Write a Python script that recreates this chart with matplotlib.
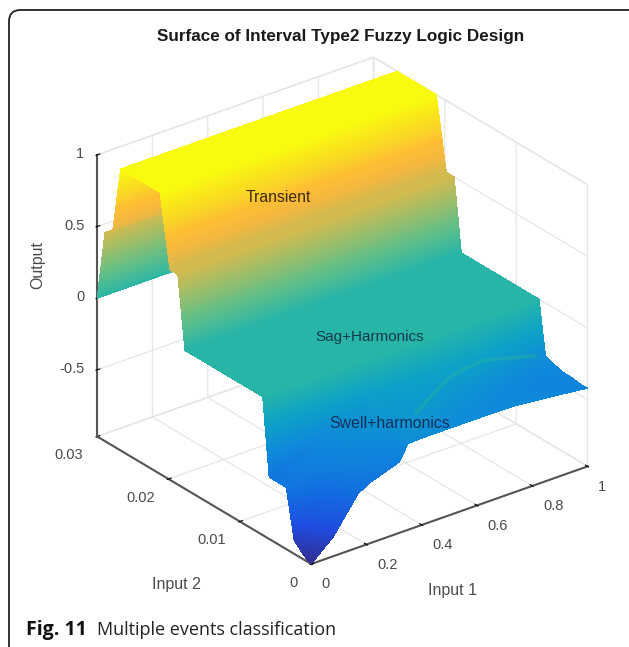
import numpy as np
import matplotlib
matplotlib.use("Agg")
import matplotlib.pyplot as plt
from matplotlib.colors import LinearSegmentedColormap
from matplotlib.patches import FancyBboxPatch

title = "Surface of Interval Type2 Fuzzy Logic Design"
caption_bold = "Fig. 11"
caption_rest = "Multiple events classification"
input1_ticks = [0, 0.2, 0.4, 0.6, 0.8, 1]
input1_ticklabels = ["0", "0.2", "0.4", "0.6", "0.8", "1"]
input2_ticks = [0, 0.01, 0.02, 0.03]
input2_ticklabels = ["0", "0.01", "0.02", "0.03"]
output_ticks = [-0.5, 0, 0.5, 1]
output_ticklabels = ["-0.5", "0", "0.5", "1"]

input1_knots = [0, 0.08, 0.17, 0.21, 0.32, 0.35, 0.40, 0.50, 0.60, 0.745, 0.87, 1]
input2_low = [0, 0.0006, 0.0012, 0.0024, 0.0035, 0.0041, 0.0049, 0.0054, 0.0059]
output_low = [
    [-0.965, -0.83, -0.59, -0.545, -0.47, -0.365, -0.36, -0.36, -0.36, -0.365, -0.39, -0.42],
    [-0.95, -0.77, -0.55, -0.50, -0.43, -0.34, -0.30, -0.36, -0.37, -0.38, -0.40, -0.42],
    [-0.93, -0.72, -0.50, -0.46, -0.40, -0.33, -0.29, -0.34, -0.38, -0.39, -0.41, -0.42],
    [-0.87, -0.62, -0.45, -0.42, -0.35, -0.31, -0.28, -0.26, -0.34, -0.39, -0.41, -0.41],
    [-0.535, -0.50, -0.42, -0.38, -0.32, -0.29, -0.27, -0.25, -0.28, -0.38, -0.41, -0.41],
    [-0.535, -0.49, -0.41, -0.37, -0.31, -0.28, -0.26, -0.24, -0.25, -0.34, -0.40, -0.40],
    [-0.535, -0.48, -0.40, -0.36, -0.30, -0.26, -0.24, -0.22, -0.21, -0.23, -0.37, -0.39],
    [-0.535, -0.48, -0.40, -0.35, -0.29, -0.25, -0.22, -0.20, -0.18, -0.18, -0.28, -0.38],
    [-0.535, -0.48, -0.39, -0.34, -0.28, -0.24, -0.20, -0.17, -0.15, -0.15, -0.20, -0.37],
]
input2_high = [0.0068, 0.0177, 0.0187, 0.0198, 0.0212, 0.0267, 0.0278, 0.0289, 0.03]
output_high = [0, 0, 0.5, 0.5, 1, 1, 0.54, 0.49, 0]

arc_input1 = [0.394, 0.45, 0.5, 0.55, 0.605, 0.67, 0.745, 0.81, 0.87, 0.92, 0.96]
arc_input2 = [0.0006, 0.0016, 0.0024, 0.0033, 0.0041, 0.0046, 0.0049, 0.0052, 0.0054, 0.0056, 0.0058]
arc_output = [-0.2, -0.2, -0.2, -0.2, -0.2, -0.2, -0.2, -0.24, -0.28, -0.31, -0.34]

parula = LinearSegmentedColormap.from_list("parula", [
    (0.00, (0.2081, 0.1663, 0.5292)), (0.10, (0.12, 0.30, 0.88)),
    (0.20, (0.07, 0.43, 0.88)), (0.30, (0.06, 0.53, 0.86)),
    (0.40, (0.05, 0.63, 0.78)), (0.50, (0.15, 0.71, 0.66)),
    (0.60, (0.40, 0.75, 0.52)), (0.70, (0.68, 0.74, 0.38)),
    (0.80, (0.95, 0.72, 0.25)), (0.85, (0.995, 0.74, 0.20)),
    (0.90, (0.98, 0.83, 0.15)), (1.00, (0.976, 0.983, 0.054))])

table = np.array(output_low + [[v] * len(input1_knots) for v in output_high])
xk = np.array(input1_knots)
yk = np.array(input2_low + input2_high)
# finer mesh only so that the colour shades smoothly between the read values
xs = np.unique(np.r_[xk, np.linspace(0, 1, 160)])
ys = np.unique(np.concatenate([np.linspace(a, b, 32) for a, b in zip(yk[:-1], yk[1:])]))
by_x = np.array([np.interp(xs, xk, row) for row in table])
Z = np.array([np.interp(ys, yk, by_x[:, j]) for j in range(len(xs))]).T
X, Y = np.meshgrid(xs, ys)

W, H = 629, 647
fig = plt.figure(figsize=(W / 100, H / 100), dpi=100, facecolor="white")
plt.rcParams["font.family"] = ["Liberation Sans", "DejaVu Sans"]

aw, ah = 620, 620
cx, cy = 334, 319
ax = fig.add_axes([(cx - aw / 2) / W, 1 - (cy + ah / 2) / H, aw / W, ah / H], projection="3d",
                  computed_zorder=False)
ax.patch.set_alpha(0)
ax.set_proj_type("ortho")
ax.view_init(elev=27.3, azim=-127.6)
ax.set_box_aspect((350, 352, 318), zoom=0.92)
ax.set_xlim(0, 1); ax.set_ylim(0, 0.03); ax.set_zlim(-0.965, 1)
ax.plot_surface(X, Y, Z, facecolors=parula((Z + 1) / 2), rstride=1, cstride=1,
                linewidth=0, antialiased=False, shade=False, zorder=1)
ax.plot3D(arc_input1, arc_input2, arc_output, color=(0.15, 0.70, 0.62), lw=2.6, alpha=0.45,
          solid_capstyle="round", solid_joinstyle="round", zorder=2)

ink = "#4a4a4a"
ax.set_xticks(input1_ticks, input1_ticklabels, fontsize=10.5, color=ink, ha="left", va="center")
ax.set_yticks(input2_ticks, input2_ticklabels, fontsize=10.5, color=ink, ha="right", va="center")
ax.set_zticks(output_ticks, output_ticklabels, fontsize=10.5, color=ink, ha="right", va="center")
ax.tick_params(axis="z", pad=-2)
for a in (ax.xaxis, ax.yaxis, ax.zaxis):
    a.set_pane_color((1, 1, 1, 1))
    a.pane.set_edgecolor("#e6e6e6")
    a._axinfo["grid"].update(color="#e6e6e6", linewidth=0.9)
    a._axinfo["tick"].update(inward_factor=0.05, outward_factor=0.12)
    a.line.set_color("#555555")
    a.line.set_linewidth(1.5)

def px(x, y):
    return x / W, 1 - y / H

fig.text(*px(38, 265), "Output", rotation=90, ha="center", va="center", fontsize=11.5, color=ink)
fig.text(*px(453, 591), "Input 1", ha="center", va="center", fontsize=11.5, color=ink)
fig.text(*px(176, 584), "Input 2", ha="center", va="center", fontsize=11.5, color=ink)
fig.text(*px(341, 36), title, ha="center", va="center", fontsize=12.3, fontweight="bold", color="#1a1a1a")
fig.text(*px(278, 198), "Transient", ha="center", va="center", fontsize=11.3, color="#3a2a10")
fig.text(*px(370, 337), "Sag+Harmonics", ha="center", va="center", fontsize=11, color="#123a4a")
fig.text(*px(390, 423), "Swell+harmonics", ha="center", va="center", fontsize=11.4, color="#14305a")

fig.text(*px(26, 630), caption_bold, ha="left", va="center", fontsize=14, fontweight="bold",
         family=["Open Sans"], color="#111111")
fig.text(*px(97, 630), caption_rest, ha="left", va="center", fontsize=13, family=["Open Sans"], color="#222222")

frame = FancyBboxPatch((9 / W, 1 - 665 / H), 640 / W, 655 / H, transform=fig.transFigure,
                       boxstyle="round,pad=0,rounding_size=0.018", mutation_aspect=W / H,
                       fill=False, edgecolor="#222222", linewidth=1.3)
fig.add_artist(frame)

fig.savefig("out.png", dpi=100)
